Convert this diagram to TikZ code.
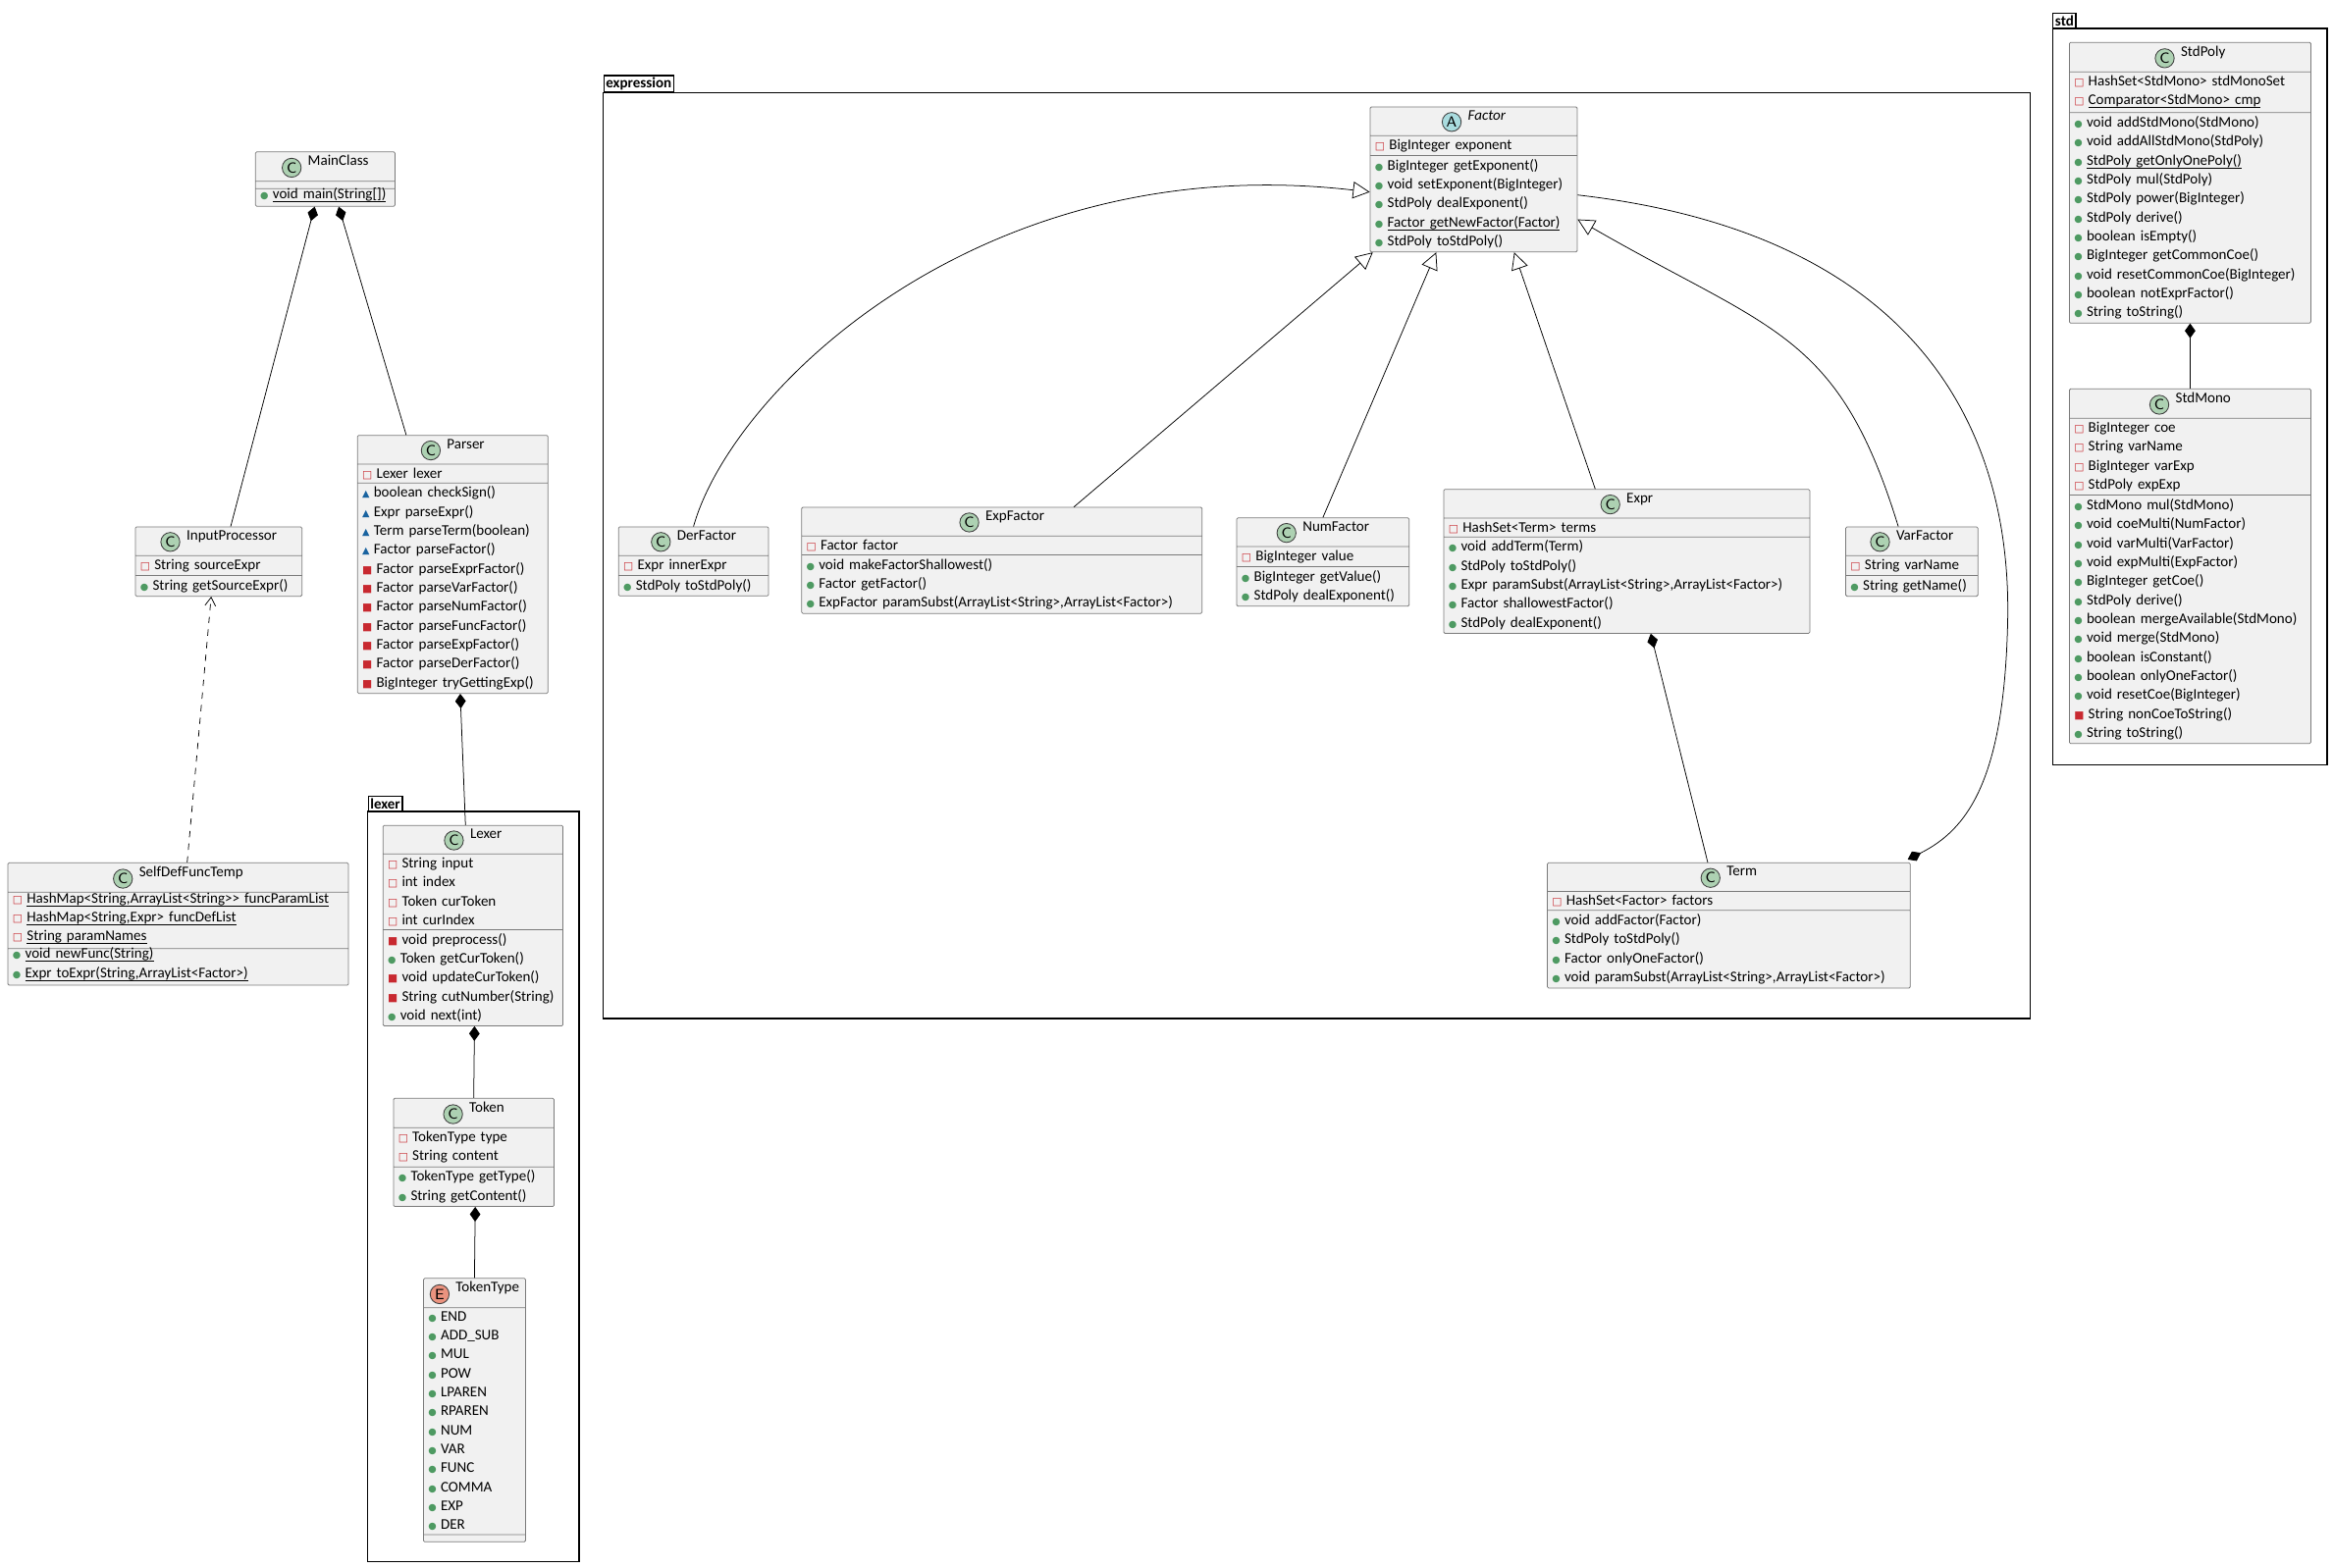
\documentclass[tikz,border=0pt]{standalone}
\usepackage{fontspec}
\setmainfont{Carlito}
\newfontfamily\symfont{DejaVu Sans}
\usetikzlibrary{calc,positioning,shapes.multipart,arrows.meta}
\definecolor{boxfill}{HTML}{F1F1F1}
\definecolor{boxline}{HTML}{7A7A7A}
\definecolor{iconC}{HTML}{ADD1B2}
\definecolor{iconA}{HTML}{A9DCDF}
\definecolor{iconE}{HTML}{EB937F}
\definecolor{pubc}{HTML}{4E9A62}
\definecolor{privc}{HTML}{C82930}
\definecolor{pkgc}{HTML}{1963A0}
% visibility markers
\newcommand\vpub{{\symfont\fontsize{4.5}{5}\selectfont\color{pubc}●}\hspace{2pt}}
\newcommand\vprf{{\symfont\fontsize{5}{5}\selectfont\color{privc}□}\hspace{2pt}}
\newcommand\vprm{{\symfont\fontsize{5}{5}\selectfont\color{privc}■}\hspace{2pt}}
\newcommand\vpkg{{\symfont\fontsize{4.5}{5}\selectfont\color{pkgc}▲}\hspace{2pt}}
\newcommand\ul[1]{\underline{\smash{#1}}}
\newcommand\clsicon[2]{\tikz[baseline=-2.4pt]\node[circle,draw=black!75,fill=#1,inner sep=0pt,minimum size=9pt,font=\fontsize{7}{7}\selectfont\sffamily]{#2};\hspace{3pt}}
\newcommand\clstitle[3]{\makebox[\linewidth][c]{\clsicon{#1}{#2}#3}}
\tikzset{
  cls/.style={rectangle split, rectangle split parts=3, anchor=north west,
    draw=boxline, fill=boxfill, rounded corners=0.6pt, line width=0.35pt,
    text width=#1, align=left, inner xsep=0.8mm, inner ysep=0.55mm,
    rectangle split empty part height=0.9mm,
    font=\fontsize{7}{9}\selectfont},
  pkg/.style={draw=black, line width=0.6pt},
  pkgtab/.style={draw=black, line width=0.6pt, anchor=south west, inner sep=1pt,
    font=\fontsize{7}{8}\selectfont\bfseries},
  comp/.style={{Diamond[length=7pt,width=5pt]}-, line width=0.35pt},
  inh/.style={-{Triangle[open,length=8pt,width=8pt]}, line width=0.35pt},
  dep/.style={-{Straight Barb[length=4pt,width=5pt]}, dashed, line width=0.35pt},
}
\begin{document}
\begin{tikzpicture}[x=0.25mm,y=-0.25mm]
  \useasboundingbox (0,0) rectangle (1555,1045);

  % packages
  \draw[pkg] (402,62) rectangle (1353,679);
  \node[pkgtab] (exptab) at (402,62) {expression\hspace{6pt}};
  \draw[pkg] (245,541) rectangle (386,1041);
  \node[pkgtab] (lextab) at (245,541) {lexer\hspace{4pt}};
  \draw[pkg] (1368,19) rectangle (1551,510);
  \node[pkgtab] (stdtab) at (1368,19) {std\hspace{4pt}};

  % top level classes
  \node[cls=21.65mm] (main) at (170,101) {\clstitle{iconC}{C}{MainClass}
    \nodepart{two}
    \nodepart{three}\vpub\ul{void main(String[])}};
  \node[cls=26.15mm] (input) at (90,351) {\clstitle{iconC}{C}{InputProcessor}
    \nodepart{two}\vprf String sourceExpr
    \nodepart{three}\vpub String getSourceExpr()};
  \node[cls=30.15mm] (parser) at (238,290) {\clstitle{iconC}{C}{Parser}
    \nodepart{two}\vprf Lexer lexer
    \nodepart{three}\vpkg boolean checkSign()\\ \vpkg Expr parseExpr()\\
      \vpkg Term parseTerm(boolean)\\ \vpkg Factor parseFactor()\\
      \vprm Factor parseExprFactor()\\ \vprm Factor parseVarFactor()\\
      \vprm Factor parseNumFactor()\\ \vprm Factor parseFuncFactor()\\
      \vprm Factor parseExpFactor()\\ \vprm Factor parseDerFactor()\\
      \vprm BigInteger tryGettingExp()};
  \node[cls=55.15mm] (selfdef) at (5,575) {\clstitle{iconC}{C}{SelfDefFuncTemp}
    \nodepart{two}\vprf\ul{HashMap<String,ArrayList<String>{}> funcParamList}\\
      \vprf\ul{HashMap<String,Expr> funcDefList}\\
      \vprf\ul{String paramNames}
    \nodepart{three}\vpub\ul{void newFunc(String)}\\
      \vpub\ul{Expr toExpr(String,ArrayList<Factor>)}};

  % lexer
  \node[cls=28.4mm] (lexer) at (255,550) {\clstitle{iconC}{C}{Lexer}
    \nodepart{two}\vprf String input\\ \vprf int index\\ \vprf Token curToken\\ \vprf int curIndex
    \nodepart{three}\vprm void preprocess()\\ \vpub Token getCurToken()\\
      \vprm void updateCurToken()\\ \vprm String cutNumber(String)\\ \vpub void next(int)};
  \node[cls=25.15mm] (token) at (262,732) {\clstitle{iconC}{C}{Token}
    \nodepart{two}\vprf TokenType type\\ \vprf String content
    \nodepart{three}\vpub TokenType getType()\\ \vpub String getContent()};
  \node[cls=15.4mm] (toktype) at (282,852) {\clstitle{iconE}{E}{TokenType}
    \nodepart{two}\vpub END\\ \vpub ADD\_SUB\\ \vpub MUL\\ \vpub POW\\ \vpub LPAREN\\
      \vpub RPAREN\\ \vpub NUM\\ \vpub VAR\\ \vpub FUNC\\ \vpub COMMA\\ \vpub EXP\\ \vpub DER
    \nodepart{three}};

  % expression
  \node[cls=32.9mm] (factor) at (913,71) {\clstitle{iconA}{A}{\itshape Factor}
    \nodepart{two}\vprf BigInteger exponent
    \nodepart{three}\vpub BigInteger getExponent()\\ \vpub void setExponent(BigInteger)\\
      \vpub StdPoly dealExponent()\\ \vpub\ul{Factor getNewFactor(Factor)}\\
      \vpub StdPoly toStdPoly()};
  \node[cls=23.4mm] (der) at (412,351) {\clstitle{iconC}{C}{DerFactor}
    \nodepart{two}\vprf Expr innerExpr
    \nodepart{three}\vpub StdPoly toStdPoly()};
  \node[cls=65.15mm] (expf) at (534,338) {\clstitle{iconC}{C}{ExpFactor}
    \nodepart{two}\vprf Factor factor
    \nodepart{three}\vpub void makeFactorShallowest()\\ \vpub Factor getFactor()\\
      \vpub ExpFactor paramSubst(ArrayList<String>,ArrayList<Factor>)};
  \node[cls=27.15mm] (num) at (824,345) {\clstitle{iconC}{C}{NumFactor}
    \nodepart{two}\vprf BigInteger value
    \nodepart{three}\vpub BigInteger getValue()\\ \vpub StdPoly dealExponent()};
  \node[cls=59.4mm] (expr) at (962,326) {\clstitle{iconC}{C}{Expr}
    \nodepart{two}\vprf HashSet<Term> terms
    \nodepart{three}\vpub void addTerm(Term)\\ \vpub StdPoly toStdPoly()\\
      \vpub Expr paramSubst(ArrayList<String>,ArrayList<Factor>)\\
      \vpub Factor shallowestFactor()\\ \vpub StdPoly dealExponent()};
  \node[cls=20.4mm] (var) at (1230,351) {\clstitle{iconC}{C}{VarFactor}
    \nodepart{two}\vprf String varName
    \nodepart{three}\vpub String getName()};
  \node[cls=58.9mm] (term) at (1031,575) {\clstitle{iconC}{C}{Term}
    \nodepart{two}\vprf HashSet<Factor> factors
    \nodepart{three}\vpub void addFactor(Factor)\\ \vpub StdPoly toStdPoly()\\
      \vpub Factor onlyOneFactor()\\ \vpub void paramSubst(ArrayList<String>,ArrayList<Factor>)};

  % std
  \node[cls=38.65mm] (poly) at (1379,28) {\clstitle{iconC}{C}{StdPoly}
    \nodepart{two}\vprf HashSet<StdMono> stdMonoSet\\ \vprf\ul{Comparator<StdMono> cmp}
    \nodepart{three}\vpub void addStdMono(StdMono)\\ \vpub void addAllStdMono(StdPoly)\\
      \vpub\ul{StdPoly getOnlyOnePoly()}\\ \vpub StdPoly mul(StdPoly)\\
      \vpub StdPoly power(BigInteger)\\ \vpub StdPoly derive()\\ \vpub boolean isEmpty()\\
      \vpub BigInteger getCommonCoe()\\ \vpub void resetCommonCoe(BigInteger)\\
      \vpub boolean notExprFactor()\\ \vpub String toString()};
  \node[cls=38.65mm] (mono) at (1379,259) {\clstitle{iconC}{C}{StdMono}
    \nodepart{two}\vprf BigInteger coe\\ \vprf String varName\\ \vprf BigInteger varExp\\ \vprf StdPoly expExp
    \nodepart{three}\vpub StdMono mul(StdMono)\\ \vpub void coeMulti(NumFactor)\\
      \vpub void varMulti(VarFactor)\\ \vpub void expMulti(ExpFactor)\\
      \vpub BigInteger getCoe()\\ \vpub StdPoly derive()\\
      \vpub boolean mergeAvailable(StdMono)\\ \vpub void merge(StdMono)\\
      \vpub boolean isConstant()\\ \vpub boolean onlyOneFactor()\\
      \vpub void resetCoe(BigInteger)\\ \vprm String nonCoeToString()\\ \vpub String toString()};

  % connectors
  \draw[comp] ($(main.south)+(-7,0)$) -- ($(input.north)+(8,0)$);
  \draw[comp] ($(main.south)+(9,0)$) -- ($(parser.north)+(-31,0)$);
  \draw[dep] ($(selfdef.north)+(6,0)$) -- ($(input.south)+(-5,0)$);
  \draw[comp] ($(parser.south)+(5,0)$) -- ($(lexer.north)+(-5,0)$);
  \draw[comp] ($(lexer.south)+(1,0)$) -- (token.north);
  \draw[comp] ($(token.south)+(1,0)$) -- ($(toktype.north)+(0,0)$);
  \draw[comp] (poly.south) -- (mono.north);
  \draw[comp] ($(expr.south)+(16,0)$) -- ($(term.north)+(-14,0)$);
  \draw[inh] (der.north) .. controls +(25,-90) and +(-260,-30) .. ($(factor.north west)+(0,57)$);
  \draw[inh] ($(expf.north)+(48,0)$) -- ($(factor.south west)+(2,0)$);
  \draw[inh] (num.north) -- ($(factor.south)+(-25,0)$);
  \draw[inh] ($(expr.north)+(-21,0)$) -- ($(factor.south)+(27,0)$);
  \draw[inh] ($(var.north)+(-9,0)$) .. controls +(-40,-130) and +(130,75) .. ($(factor.south east)+(0,-22)$);
  \draw[-{Diamond[length=7pt,width=5pt]}, line width=0.35pt]
    ($(factor.north east)+(0,59)$) .. controls +(220,25) and +(5,-140) .. (1338,420)
    .. controls +(-3,100) and +(40,-20) .. ($(term.north east)+(-2,-2)$);
\end{tikzpicture}
\end{document}
